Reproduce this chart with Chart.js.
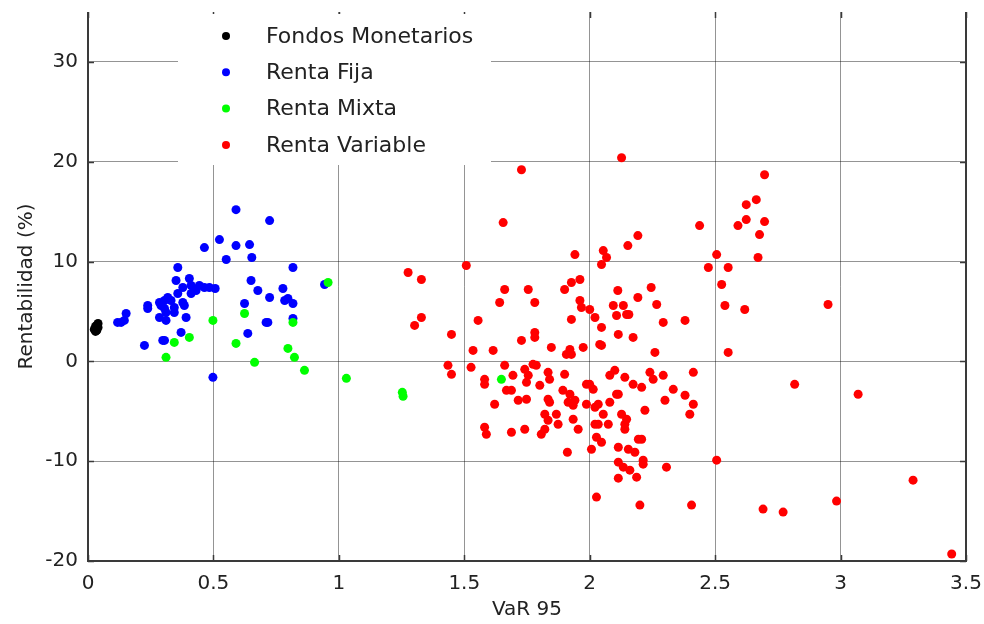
<!DOCTYPE html>
<html>
<head>
<meta charset="utf-8">
<script src="https://cdn.jsdelivr.net/npm/chart.js@4.4.1/dist/chart.umd.min.js"></script>
<style>
  html, body { margin: 0; padding: 0; background: #fff; }
  #wrap { width: 984px; height: 624px; }
</style>
</head>
<body>
<div id="wrap"><canvas id="riskChart" width="984" height="624"></canvas></div>
<script>
// VaR 95 vs rentabilidad, por tipo de fondo
const seriesNames = ["Fondos Monetarios", "Renta Fija", "Renta Mixta", "Renta Variable"];
const seriesColors = ["#000000", "#0000ff", "#00ff00", "#ff0000"];
const xTicks = [0, 0.5, 1, 1.5, 2, 2.5, 3, 3.5];
const yTicks = [-20, -10, 0, 10, 20, 30];

const monetarios = [
  [0.03, 3.0], [0.03, 3.3], [0.035, 3.6], [0.04, 3.8], [0.025, 3.2],
  [0.03, 3.5], [0.035, 3.1], [0.04, 3.4]
];

const rentaFija = [
  [0.59, 15.2], [0.524, 12.2], [0.464, 11.4], [0.59, 11.6], [0.644, 11.7], [0.551, 10.2],
  [0.653, 10.4], [0.358, 9.4], [0.65, 8.1], [0.351, 8.1], [0.404, 8.3], [0.378, 7.4],
  [0.411, 7.6], [0.444, 7.6], [0.464, 7.4], [0.484, 7.4], [0.507, 7.3], [0.431, 7.1],
  [0.411, 6.8], [0.358, 6.8], [0.318, 6.4], [0.331, 6.1], [0.285, 5.9], [0.305, 6.1],
  [0.378, 5.9], [0.384, 5.6], [0.238, 5.6], [0.238, 5.3], [0.291, 5.6], [0.305, 5.3],
  [0.344, 5.4], [0.344, 4.9], [0.311, 4.9], [0.285, 4.4], [0.311, 4.1], [0.391, 4.4],
  [0.624, 5.8], [0.152, 4.8], [0.145, 4.1], [0.118, 3.9], [0.132, 3.9], [0.371, 2.9],
  [0.637, 2.8], [0.305, 2.1], [0.298, 2.1], [0.225, 1.6], [0.498, -1.6], [0.724, 14.1],
  [0.817, 9.4], [0.677, 7.1], [0.777, 7.3], [0.724, 6.4], [0.784, 6.1], [0.797, 6.3],
  [0.817, 5.8], [0.943, 7.7], [0.71, 3.9], [0.717, 3.9], [0.817, 4.3]
];

const rentaMixta = [
  [0.498, 4.1], [0.624, 4.8], [0.404, 2.4], [0.344, 1.9], [0.59, 1.8], [0.311, 0.4],
  [0.664, -0.1], [0.957, 7.9], [0.817, 3.9], [0.797, 1.3], [0.823, 0.4], [0.863, -0.9],
  [1.03, -1.7], [1.253, -3.1], [1.256, -3.5], [1.648, -1.8]
];

const rentaVariable = [
  [2.127, 20.4], [1.728, 19.2], [1.655, 13.9], [2.192, 12.6], [2.152, 11.6], [1.941, 10.7],
  [2.054, 11.1], [2.067, 10.4], [2.047, 9.7], [1.508, 9.6], [1.276, 8.9], [1.329, 8.2],
  [1.961, 8.2], [1.927, 7.9], [1.9, 7.2], [1.661, 7.2], [1.755, 7.2], [2.112, 7.1],
  [2.245, 7.4], [2.192, 6.4], [1.641, 5.9], [1.781, 5.9], [1.961, 6.1], [1.967, 5.4],
  [2.0, 5.2], [2.094, 5.6], [2.134, 5.6], [2.267, 5.7], [2.107, 4.6], [2.147, 4.7],
  [2.156, 4.7], [2.021, 4.4], [1.329, 4.4], [1.302, 3.6], [1.555, 4.1], [1.927, 4.2],
  [2.047, 3.4], [1.449, 2.7], [1.781, 2.9], [1.781, 2.4], [1.728, 2.1], [2.114, 2.7],
  [2.173, 2.4], [1.847, 1.4], [1.921, 1.2], [1.907, 0.7], [1.927, 0.7], [1.974, 1.4],
  [2.04, 1.7], [2.047, 1.6], [1.535, 1.1], [1.615, 1.1], [2.26, 0.9],
  [1.435, -0.4], [1.449, -1.3], [1.527, -0.6], [1.661, -0.4], [1.774, -0.3], [1.787, -0.4],
  [1.741, -0.8], [1.755, -1.4], [1.748, -2.1], [1.694, -1.4], [1.581, -1.8], [1.581, -2.3],
  [1.834, -1.1], [1.84, -1.8], [1.9, -1.3], [1.987, -2.3], [2.0, -2.3], [2.014, -2.8],
  [2.08, -1.4], [2.1, -0.9], [2.14, -1.6], [2.173, -2.3], [2.207, -2.6], [2.24, -1.1],
  [2.253, -1.8], [1.668, -2.9], [1.688, -2.9], [1.801, -2.4], [1.893, -2.9], [1.921, -3.3],
  [2.107, -3.3], [2.114, -3.3],
  [1.621, -4.3], [1.715, -3.9], [1.748, -3.8], [1.834, -3.8], [1.84, -4.1], [1.914, -4.1],
  [1.934, -4.4], [1.941, -3.9], [1.987, -4.3], [2.021, -4.6], [2.034, -4.3], [2.08, -4.1],
  [2.054, -5.3], [2.127, -5.3], [2.147, -5.8], [2.14, -6.3], [2.14, -6.8], [2.22, -4.9],
  [1.821, -5.3], [1.834, -5.9], [1.867, -5.3], [1.874, -6.3], [1.934, -5.8], [1.954, -6.8],
  [2.021, -6.3], [2.034, -6.3], [2.074, -6.3], [2.027, -7.6], [2.047, -8.1], [2.007, -8.8],
  [2.114, -8.6], [2.154, -8.8], [2.18, -9.1], [2.194, -7.8], [2.207, -7.8], [2.213, -9.9],
  [2.213, -10.3], [2.114, -10.1], [2.134, -10.6], [2.16, -10.9], [2.187, -11.6], [2.114, -11.7],
  [1.911, -9.1], [2.027, -13.6], [2.2, -14.4], [1.581, -6.6], [1.588, -7.3], [1.688, -7.1],
  [1.741, -6.8], [1.807, -7.3], [1.821, -6.8],
  [2.506, 10.7], [2.473, 9.4], [2.552, 9.4], [2.526, 7.7], [2.539, 5.6], [2.552, 0.9],
  [2.293, 3.9], [2.38, 4.1], [2.413, -1.1], [2.293, -1.4], [2.333, -2.8], [2.38, -3.4],
  [2.413, -4.3], [2.399, -5.3], [2.3, -3.9], [2.306, -10.6], [2.506, -9.9], [2.406, -14.4],
  [2.697, 18.7], [2.664, 16.2], [2.624, 15.7], [2.624, 14.2], [2.697, 14.0], [2.591, 13.6],
  [2.438, 13.6], [2.677, 12.7], [2.671, 10.4], [2.618, 5.2], [2.95, 5.7], [2.817, -2.3],
  [3.07, -3.3], [2.691, -14.8], [2.771, -15.1], [2.984, -14.0], [3.289, -11.9], [3.443, -19.3]
];

const allSeries = [monetarios, rentaFija, rentaMixta, rentaVariable];
const FONT = "'DejaVu Sans', sans-serif";

// marco con marcas hacia dentro y leyenda dentro del área
const framePlugin = {
  id: "frame",
  afterDraw(chart) {
    const { ctx, chartArea: a, scales } = chart;
    ctx.save();
    ctx.strokeStyle = "#3a3a3a";
    ctx.lineWidth = 2;
    ctx.beginPath();
    ctx.moveTo(a.left, a.top);
    ctx.lineTo(a.left, a.bottom);
    ctx.lineTo(a.right, a.bottom);
    ctx.lineTo(a.right, a.top);
    ctx.stroke();
    ctx.lineWidth = 1.5;
    ctx.beginPath();
    xTicks.forEach((v) => {
      const px = Math.round(scales.x.getPixelForValue(v)) + 0.5;
      ctx.moveTo(px, a.bottom); ctx.lineTo(px, a.bottom - 6);
      ctx.moveTo(px, a.top); ctx.lineTo(px, a.top + 6);
    });
    yTicks.forEach((v) => {
      const py = Math.round(scales.y.getPixelForValue(v)) + 0.5;
      ctx.moveTo(a.left, py); ctx.lineTo(a.left + 6, py);
      ctx.moveTo(a.right, py); ctx.lineTo(a.right - 6, py);
    });
    ctx.stroke();

    // leyenda
    const lx = 178, ly = 14, lw = 313, lh = 151;
    ctx.fillStyle = "#fff";
    ctx.fillRect(lx, ly, lw, lh);
    ctx.font = "22px " + FONT;
    ctx.textBaseline = "middle";
    seriesNames.forEach((name, i) => {
      const cy = 36 + i * 36.3;
      ctx.fillStyle = seriesColors[i];
      ctx.beginPath();
      ctx.arc(226, cy, 4, 0, Math.PI * 2);
      ctx.fill();
      ctx.fillStyle = "#222";
      ctx.fillText(name, 266, cy + 1);
    });
    ctx.restore();
  }
};

new Chart(document.getElementById("riskChart").getContext("2d"), {
  type: "scatter",
  data: {
    datasets: allSeries.map((pts, i) => ({
      label: seriesNames[i],
      data: pts.map((p) => ({ x: p[0], y: p[1] })),
      backgroundColor: seriesColors[i],
      borderWidth: 0,
      pointRadius: 4.5,
      order: 4 - i
    }))
  },
  options: {
    responsive: false,
    animation: false,
    events: [],
    layout: { padding: { left: 0, right: 18, top: 12, bottom: 0 } },
    scales: {
      x: {
        type: "linear",
        min: 0,
        max: 3.5,
        afterFit: (s) => {
          s.height = 63;
          s.paddingLeft = 0;
          s.paddingRight = 0;
        },
        afterBuildTicks: (s) => { s.ticks = xTicks.map((v) => ({ value: v })); },
        grid: { color: "rgba(0,0,0,0.42)", lineWidth: 1, drawTicks: false },
        border: { display: false },
        ticks: {
          padding: 11,
          color: "#222",
          font: { family: FONT, size: 20 },
          callback: (v) => String(v)
        },
        title: {
          display: true,
          text: "VaR 95",
          color: "#222",
          font: { family: FONT, size: 20 },
          padding: { top: 0, bottom: 2 }
        }
      },
      y: {
        type: "linear",
        min: -20,
        max: 35,
        afterFit: (s) => {
          s.width = 88;
          s.paddingTop = 0;
          s.paddingBottom = 0;
        },
        afterBuildTicks: (s) => { s.ticks = yTicks.map((v) => ({ value: v })); },
        grid: { color: "rgba(0,0,0,0.42)", lineWidth: 1, drawTicks: false },
        border: { display: false },
        ticks: {
          padding: 10,
          color: "#222",
          font: { family: FONT, size: 20 },
          callback: (v) => String(v)
        },
        title: {
          display: true,
          text: "Rentabilidad (%)",
          color: "#222",
          font: { family: FONT, size: 20 },
          padding: { top: 15, bottom: 0 }
        }
      }
    },
    plugins: {
      legend: { display: false },
      tooltip: { enabled: false }
    }
  },
  plugins: [framePlugin]
});
</script>
</body>
</html>
